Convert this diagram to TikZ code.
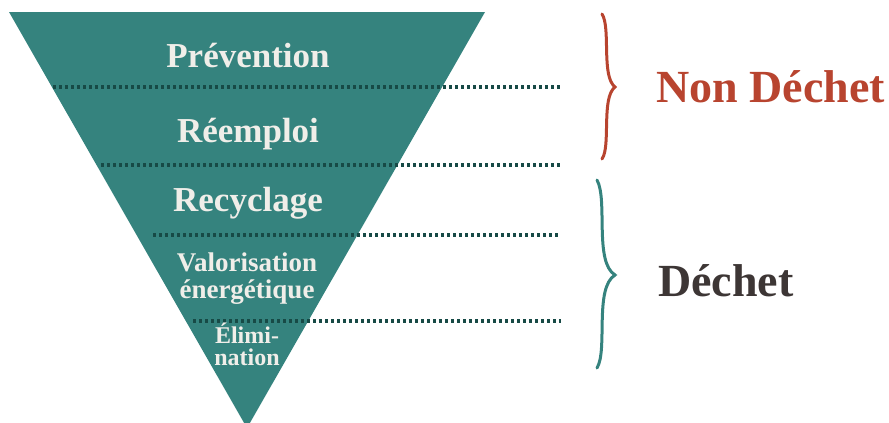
\documentclass[tikz,border=0pt]{standalone}
\usepackage{fontspec}
\setmainfont{Liberation Serif}
\usetikzlibrary{positioning}

\definecolor{pyramid}{HTML}{35837E}
\definecolor{sepline}{HTML}{174A46}
\definecolor{brick}{HTML}{B8442F}
\definecolor{ink}{HTML}{3D3635}
\definecolor{cream}{HTML}{F0EEE9}

\begin{document}
\begin{tikzpicture}[x=1pt, y=-1pt,
    level/.style={text=cream, inner sep=0pt, anchor=base, align=center,
      font=\bfseries\fontsize{35}{35}\selectfont},
    sep/.style={draw=sepline, line width=3.2pt, dash pattern=on 3.2pt off 2.8pt},
    brace/.style={line width=3pt, line cap=round},
    group/.style={inner sep=0pt, anchor=base west, font=\bfseries\fontsize{46}{46}\selectfont}]
    \useasboundingbox (0,0) rectangle (889,423);

    % pyramide inversee
    \fill[pyramid] (9,12) -- (485,12) -- (247,428) -- cycle;

    % separations
    \draw[sep] (53,87) -- (561,87);
    \draw[sep] (101,165) -- (562,165);
    \draw[sep] (153,235) -- (558,235);
    \draw[sep] (193,321) -- (561,321);

    % niveaux (base = derniere ligne)
    \node[level] (prev) at (248,67) {Prévention};
    \node[level] (reem) at (248,142) {Réemploi};
    \node[level] (recy) at (248,211) {Recyclage};
    \node[level, font=\bfseries\fontsize{27}{27}\selectfont] (valo) at (247,298) {Valorisation\\énergétique};
    \node[level, font=\bfseries\fontsize{24}{22}\selectfont] (elim) at (247,365) {Élimi-\\nation};

    % accolades
    \draw[brace, brick] (602,14) .. controls (611,28) and (601,76) .. (615,87)
      .. controls (601,98) and (611,146) .. (602,159);
    \draw[brace, pyramid] (597,180) .. controls (608,200) and (594,262) .. (615,275)
      .. controls (594,288) and (608,350) .. (597,368);

    \node[group, text=brick] (nondechet) at (656,102) {Non Déchet};
    \node[group, text=ink] (dechet) at (658,296) {Déchet};
\end{tikzpicture}
\end{document}
